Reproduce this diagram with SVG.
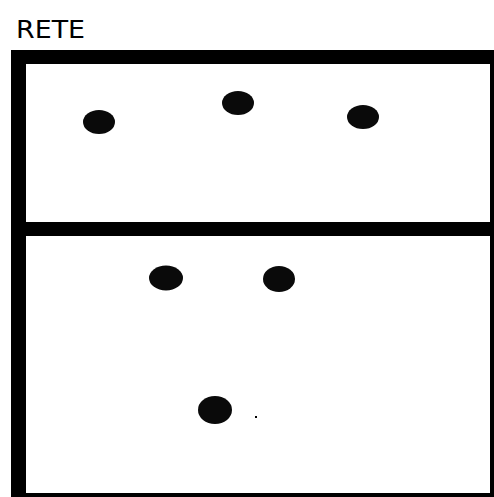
<svg xmlns="http://www.w3.org/2000/svg" width="494" height="497" viewBox="0 0 494 497">
<style>
.frame{fill:#000}
.dot{fill:#0a0a0a}
.title{font-family:"DejaVu Sans","Liberation Sans",sans-serif;font-size:25px;fill:#000}
</style>
<rect width="494" height="497" fill="#fff"/>
<text class="title" x="16" y="38" textLength="69" lengthAdjust="spacingAndGlyphs">RETE</text>
<g id="frame">
<rect class="frame" x="11" y="50" width="483" height="14"/>
<rect class="frame" x="11" y="50" width="15" height="447"/>
<rect class="frame" x="11" y="222" width="480" height="14"/>
<rect class="frame" x="490" y="50" width="4" height="447"/>
<rect class="frame" x="11" y="493" width="483" height="4"/>
</g>
<g id="n1"><ellipse class="dot" cx="99" cy="122" rx="16" ry="12"/></g>
<g id="n2"><ellipse class="dot" cx="238" cy="103" rx="16" ry="12"/></g>
<g id="n3"><ellipse class="dot" cx="363" cy="117" rx="16" ry="12"/></g>
<g id="n4"><ellipse class="dot" cx="166" cy="278" rx="17" ry="12.5"/></g>
<g id="n5"><ellipse class="dot" cx="279" cy="279" rx="16" ry="13"/></g>
<g id="n6"><ellipse class="dot" cx="215" cy="410" rx="17" ry="14"/></g>
<rect x="255" y="416" width="2" height="2" fill="#000"/>
</svg>
